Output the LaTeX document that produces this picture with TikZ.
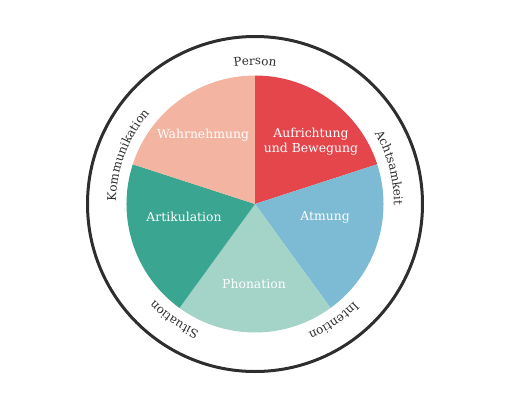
\documentclass[tikz,border=0pt]{standalone}
\usepackage{fontspec}
\setmainfont{DejaVu Serif}
\usetikzlibrary{decorations.text}
\definecolor{aufrcol}{HTML}{E5464C}
\definecolor{atmcol}{HTML}{7DBBD5}
\definecolor{phoncol}{HTML}{A4D3C7}
\definecolor{artcol}{HTML}{3AA591}
\definecolor{wahrcol}{HTML}{F3B5A1}
\definecolor{ringcol}{HTML}{2E2E2E}
\newcommand{\ringfont}{\fontsize{12}{13}\selectfont}
\begin{document}
\begin{tikzpicture}[x=1pt, y=1pt,
    seglabel/.style={text=white, font=\fontsize{12.4}{15}\selectfont, align=center},
    ringlabel/.style={decorate, decoration={text along path, text align=center,
        text color=ringcol, text={|\ringfont|#1}}}]
    \useasboundingbox (-255,-204) rectangle (251,204);

    % Außenring
    \draw[ringcol, line width=3pt] (0,0) circle[radius=167.5];

    % Segmente
    \fill[aufrcol] (0,0) -- (90:128.5) arc[start angle=90, end angle=18, radius=128.5] -- cycle;
    \fill[atmcol] (0,0) -- (18:128.5) arc[start angle=18, end angle=-54, radius=128.5] -- cycle;
    \fill[phoncol] (0,0) -- (-54:128.5) arc[start angle=-54, end angle=-126, radius=128.5] -- cycle;
    \fill[artcol] (0,0) -- (-126:128.5) arc[start angle=-126, end angle=-198, radius=128.5] -- cycle;
    \fill[wahrcol] (0,0) -- (162:128.5) arc[start angle=162, end angle=90, radius=128.5] -- cycle;

    % Beschriftung der Segmente
    \node[seglabel] (wahr) at (-52,69) {Wahrnehmung};
    \node[seglabel] (aufr) at (56,62) {Aufrichtung\\und Bewegung};
    \node[seglabel] (atm) at (70,-13) {Atmung};
    \node[seglabel] (phon) at (-1,-80) {Phonation};
    \node[seglabel] (art) at (-71,-13) {Artikulation};

    % Beschriftung am Ring (im Uhrzeigersinn)
    \path[ringlabel=Person] (140:139) arc[start angle=140, end angle=40, radius=139];
    \path[ringlabel=Achtsamkeit] (65:139) arc[start angle=65, end angle=-35, radius=139];
    \path[ringlabel=Intention] (-6:139) arc[start angle=-6, end angle=-106, radius=139];
    \path[ringlabel=Situation] (-75:139) arc[start angle=-75, end angle=-175, radius=139];
    \path[ringlabel=Kommunikation] (209:139) arc[start angle=209, end angle=109, radius=139];
\end{tikzpicture}
\end{document}
